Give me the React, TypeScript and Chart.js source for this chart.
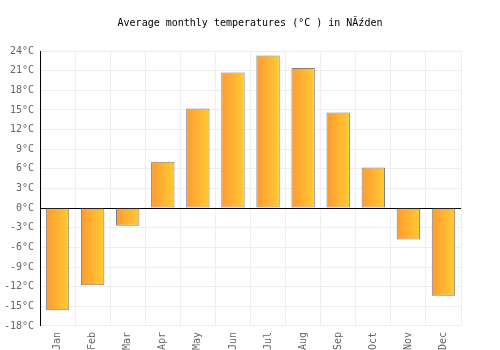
import React, { useEffect, useRef } from "react";
import { Chart, registerables } from "chart.js";

Chart.register(...registerables);

const months = ["Jan", "Feb", "Mar", "Apr", "May", "Jun", "Jul", "Aug", "Sep", "Oct", "Nov", "Dec"];
const temps = [-15.6, -11.8, -2.7, 7.1, 15.2, 20.7, 23.3, 21.4, 14.6, 6.2, -4.8, -13.4];
const titleText = "Average monthly temperatures (°C ) in NĂźden";
const yMin = -18;
const yMax = 24;
const yStep = 3;

const gradientPlugin = {
  id: "barGradient",
  beforeDatasetsDraw(chart: any) {
    const ctx = chart.ctx;
    const meta = chart.getDatasetMeta(0);
    meta.data.forEach((el: any) => {
      const x0 = el.x - el.width / 2;
      const x1 = el.x + el.width / 2;
      const g = ctx.createLinearGradient(x0, 0, x1, 0);
      g.addColorStop(0, "#ff9a30");
      g.addColorStop(1, "#ffcc33");
      el.options = Object.assign({}, el.options, { backgroundColor: g });
    });
  },
};

export default function App() {
  const ref = useRef<HTMLCanvasElement>(null);
  useEffect(() => {
    const chart = new Chart(ref.current!, {
      type: "bar",
      data: {
        labels: months,
        datasets: [
          {
            data: temps,
            backgroundColor: (c: any) => "#ffb030",
            borderColor: "#808080",
            borderWidth: 1,
            borderSkipped: false,
            barPercentage: 0.667,
            categoryPercentage: 1,
          },
        ],
      },
      options: {
        animation: false,
        responsive: false,
        devicePixelRatio: 1,
        layout: { padding: { left: 0, right: 0, top: 0, bottom: -6 } },
        plugins: {
          legend: { display: false },
          tooltip: { enabled: false },
          title: {
            display: true,
            text: titleText,
            color: "#000",
            font: { family: "DejaVu Sans Mono", size: 10, weight: "normal" },
            padding: { top: 17, bottom: 22 },
          },
        },
        scales: {
          x: {
            grid: { color: "#eeeeee", offset: true, drawTicks: false },
            border: { color: "#eeeeee" },
            ticks: {
              color: "#666",
              font: { family: "DejaVu Sans Mono", size: 10 },
              minRotation: 90,
              maxRotation: 90,
              padding: 6,
            },
          },
          y: {
            min: yMin,
            max: yMax,
            afterFit: (s: any) => {
              s.width = 40;
            },
            grid: {
              color: (c: any) => (c.tick && c.tick.value === 0 ? "#000" : "#eeeeee"),
              drawTicks: false,
            },
            border: { color: "#000" },
            ticks: {
              stepSize: yStep,
              color: "#666",
              font: { family: "DejaVu Sans Mono", size: 10 },
              padding: 6,
              callback: (v: any) => `${v}°C`,
            },
          },
          yRight: {
            position: "right",
            min: yMin,
            max: yMax,
            afterFit: (s: any) => {
              s.width = 39;
            },
            grid: { display: false },
            border: { display: false },
            ticks: { display: false },
          },
        },
      },
      plugins: [gradientPlugin],
    });
    return () => chart.destroy();
  }, []);
  return (
    <div style={{ position: "fixed", left: 0, top: 0, width: 500, height: 350 }}>
      <canvas ref={ref} width={500} height={350} style={{ width: 500, height: 350 }} />
    </div>
  );
}
